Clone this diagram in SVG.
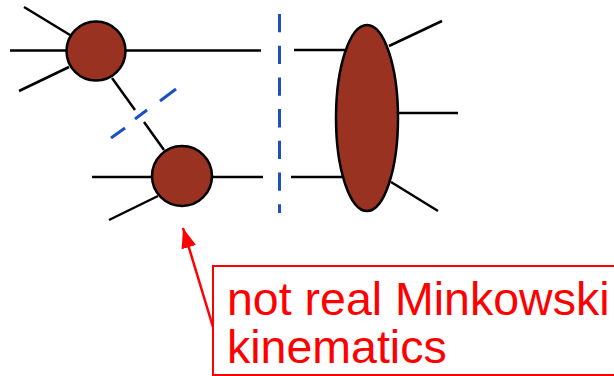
<svg xmlns="http://www.w3.org/2000/svg" width="614" height="376" viewBox="0 0 614 376">
<defs>
<style>
.ln{stroke:#000;stroke-width:2.5;fill:none;stroke-linecap:butt}
.blob{fill:#993220;stroke:#000;stroke-width:2.5}
.cut{stroke:#1c4fc4;stroke-width:3;fill:none}
.note{fill:none;stroke:#ff0000;stroke-width:2}
.txt{font-family:"Liberation Sans",Arial,sans-serif;font-size:46.5px;fill:#ff0000}
</style>
<marker id="ah" markerWidth="20" markerHeight="15" refX="20" refY="7.5" orient="auto" markerUnits="userSpaceOnUse" viewBox="0 0 20 15">
<path d="M0,0 L20,7.5 L0,15 z" fill="#ff0000"/>
</marker>
</defs>
<rect width="614" height="376" fill="#fff"/>
<g id="connectors">
<line class="ln" x1="24" y1="7" x2="70" y2="35"/>
<line class="ln" x1="10" y1="50.5" x2="67" y2="50.5"/>
<line class="ln" x1="19" y1="91" x2="69" y2="67"/>
<line class="ln" x1="126" y1="50.5" x2="261" y2="50.5"/>
<line class="ln" x1="112" y1="78" x2="135" y2="110"/>
<line class="ln" x1="144" y1="122" x2="164" y2="150"/>
<line class="ln" x1="92" y1="177" x2="152" y2="177"/>
<line class="ln" x1="109" y1="220" x2="158" y2="196"/>
<line class="ln" x1="212" y1="177" x2="263" y2="177"/>
<line class="ln" x1="294" y1="50" x2="345" y2="50"/>
<line class="ln" x1="291" y1="177" x2="342" y2="177"/>
<line class="ln" x1="389" y1="46" x2="442" y2="21"/>
<line class="ln" x1="397" y1="113" x2="458" y2="113"/>
<line class="ln" x1="391" y1="182" x2="438" y2="211"/>
<line class="cut" x1="279.5" y1="14" x2="279.5" y2="213" stroke-dasharray="18.3 13.4"/>
<line class="cut" x1="176" y1="89" x2="160" y2="101"/>
<line class="cut" x1="147" y1="110" x2="135" y2="119"/>
<line class="cut" x1="125" y1="128" x2="111" y2="138"/>
<line stroke="#ff0000" stroke-width="2.5" x1="213" y1="327" x2="183" y2="228" marker-end="url(#ah)"/>
</g>
<g id="vertex1"><circle class="blob" cx="96" cy="51" r="29.5"/></g>
<g id="vertex2"><circle class="blob" cx="182" cy="176" r="30"/></g>
<g id="blob3"><ellipse class="blob" cx="367" cy="118" rx="31" ry="93"/></g>
<g id="note">
<rect class="note" x="213" y="266" width="420" height="109"/>
<text class="txt" x="227" y="315">not real Minkowski</text>
<text class="txt" x="227" y="363">kinematics</text>
</g>
</svg>
